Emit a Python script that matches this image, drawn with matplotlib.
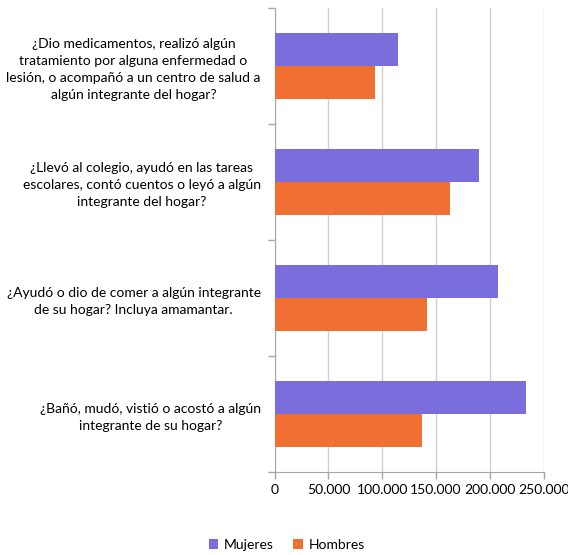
import numpy as np
import matplotlib.pyplot as plt
from matplotlib.ticker import FuncFormatter, MultipleLocator, FixedLocator

categorias = [
    "¿Dio medicamentos, realizó algún\ntratamiento por alguna enfermedad o\nlesión, o acompañó a un centro de salud a\nalgún integrante del hogar?",
    "¿Llevó al colegio, ayudó en las tareas\nescolares, contó cuentos o leyó a algún\nintegrante del hogar?",
    "¿Ayudó o dio de comer a algún integrante\nde su hogar? Incluya amamantar.",
    "¿Bañó, mudó, vistió o acostó a algún\nintegrante de su hogar?",
]
mujeres = [115000, 190000, 207500, 234000]
hombres = [93500, 163000, 141500, 137000]

c_muj = "#7A6EDD"
c_hom = "#F07033"

plt.rcParams["font.family"] = ["Lato", "DejaVu Sans"]

fig = plt.figure(figsize=(5.68, 5.55), dpi=100)
ax = fig.add_axes([0.4836, 0.150, 0.4734, 0.8356])

n = len(categorias)
y = np.arange(n)[::-1]  # first category on top
h = 0.285
ax.barh(y + h / 2, mujeres, height=h, color=c_muj, label="Mujeres", zorder=3)
ax.barh(y - h / 2, hombres, height=h, color=c_hom, label="Hombres", zorder=3)

ax.set_xlim(0, 250000)
ax.set_ylim(-0.5, n - 0.5)
ax.xaxis.set_major_locator(MultipleLocator(50000))
ax.xaxis.set_major_formatter(FuncFormatter(lambda v, p: f"{int(v):,}".replace(",", ".")))
ax.grid(axis="x", color="#d0d0d0", linewidth=1, zorder=0)

ax.set_yticks(y)
ax.set_yticklabels(categorias, multialignment="center", linespacing=1.5)
ax.yaxis.set_minor_locator(FixedLocator(np.arange(n + 1) - 0.5))
ax.tick_params(axis="y", which="major", length=0, pad=10, labelsize=10, labelcolor="#000000")
ax.tick_params(axis="y", which="minor", length=5, color="#a6a6a6", width=1)
ax.tick_params(axis="x", length=5, color="#a6a6a6", width=1, labelsize=10, pad=4)

for s in ["top", "right"]:
    ax.spines[s].set_visible(False)
for s in ["left", "bottom"]:
    ax.spines[s].set_color("#a6a6a6")

fig.legend(loc="lower center", bbox_to_anchor=(0.505, -0.015), ncol=2, frameon=False,
           fontsize=10, handlelength=0.7, handleheight=0.7, columnspacing=1.4,
           handletextpad=0.4)

fig.savefig("out.png", dpi=100)
